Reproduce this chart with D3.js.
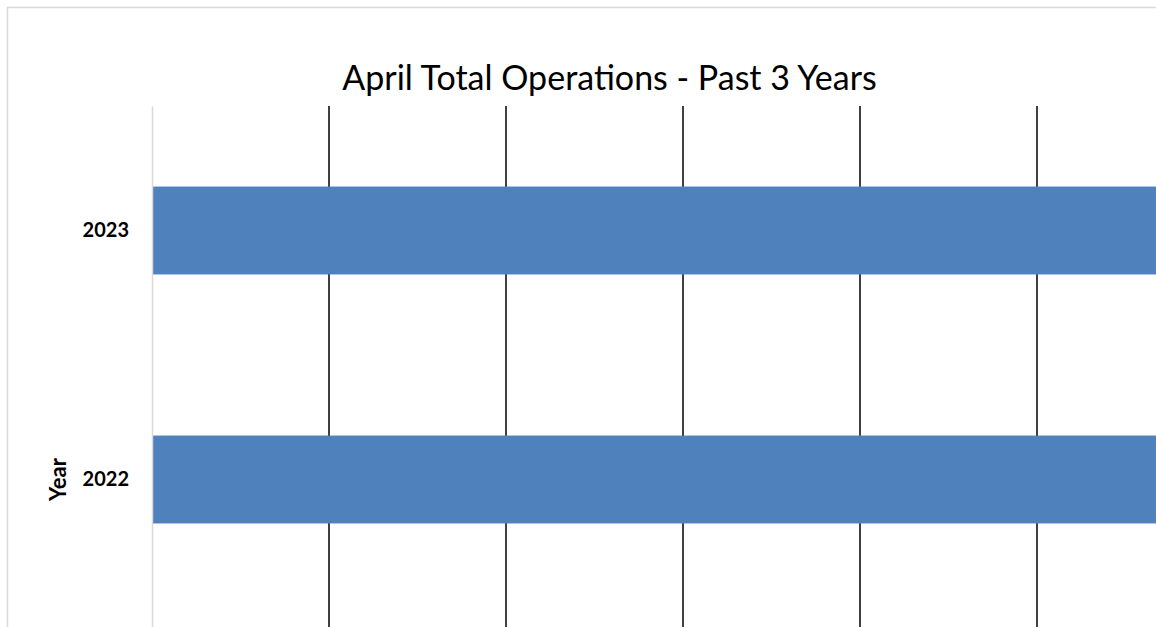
<!DOCTYPE html>
<html>
<head>
<meta charset="utf-8">
<script src="https://cdn.jsdelivr.net/npm/d3@7"></script>
<style>
  html, body { margin: 0; padding: 0; background: #fff; overflow: hidden; }
  svg { display: block; }
</style>
</head>
<body>
<div id="vis"></div>
<script>
// Chart data
const YEARS = ["2023", "2022", "2021"];
const OPERATIONS = [3600, 3550, 3500];
const X_TICKS = [0, 500, 1000, 1500, 2000, 2500, 3000, 3500, 4000];

// Frame and plot dimensions (the chart is larger than the window, as in the source)
const FRAME_WIDTH = 1156;
const FRAME_HEIGHT = 627;
const PLOT = {left: 152, top: 106, width: 1416, height: 747};

const FRAME = d3.select("#vis")
  .append("svg")
    .attr("width", FRAME_WIDTH)
    .attr("height", FRAME_HEIGHT);

// Chart border
FRAME.append("rect")
  .attr("x", 7.5)
  .attr("y", 7.5)
  .attr("width", 1205)
  .attr("height", 900)
  .attr("fill", "#fff")
  .attr("stroke", "#d9d9d9")
  .attr("stroke-width", 1.5);

// Scales
const X_SCALE = d3.scaleLinear()
  .domain([0, 4000])
  .range([PLOT.left, PLOT.left + PLOT.width]);

const Y_SCALE = d3.scaleBand()
  .domain(YEARS)
  .range([PLOT.top, PLOT.top + PLOT.height])
  .paddingInner(0.647)
  .paddingOuter(0.3235);

// Vertical gridlines
FRAME.append("g")
  .selectAll("line")
  .data(X_TICKS.slice(1))
  .enter()
  .append("line")
    .attr("x1", (d) => X_SCALE(d))
    .attr("x2", (d) => X_SCALE(d))
    .attr("y1", PLOT.top)
    .attr("y2", PLOT.top + PLOT.height)
    .attr("stroke", "#000")
    .attr("stroke-width", 1.5);

// Bars
FRAME.append("g")
  .selectAll("rect")
  .data(YEARS)
  .enter()
  .append("rect")
    .attr("x", X_SCALE(0))
    .attr("y", (d) => Y_SCALE(d))
    .attr("width", (d, i) => X_SCALE(OPERATIONS[i]) - X_SCALE(0))
    .attr("height", Y_SCALE.bandwidth())
    .attr("fill", "#4f81bd");

// Y axis
const yAxis = FRAME.append("g")
  .attr("transform", "translate(" + PLOT.left + ",0)")
  .call(d3.axisLeft(Y_SCALE).tickSize(0).tickPadding(23));
yAxis.select(".domain")
  .attr("stroke", "#d9d9d9")
  .attr("stroke-width", 1.5);
yAxis.selectAll("text")
  .attr("font-family", "Lato, 'Open Sans', sans-serif")
  .attr("font-weight", "bold")
  .attr("font-size", "20px")
  .attr("fill", "#000");
// The lowest year sits below the visible window, as in the source
yAxis.selectAll(".tick")
  .filter((d) => Y_SCALE(d) > FRAME_HEIGHT)
  .remove();

// Y axis title
FRAME.append("text")
  .attr("transform", "translate(66," + (PLOT.top + PLOT.height / 2) + ") rotate(-90)")
  .attr("text-anchor", "middle")
  .attr("font-family", "Lato, 'Open Sans', sans-serif")
  .attr("font-weight", "bold")
  .attr("font-size", "22px")
  .text("Year");

// Chart title
const title = FRAME.append("text")
  .attr("x", 609.5)
  .attr("y", 90)
  .attr("text-anchor", "middle")
  .attr("font-family", "Lato, 'Open Sans', sans-serif")
  .attr("font-size", "30px")
  .text("April Total Operations - Past 3 Years");

// Fit title width to the source (about 535px wide)
const titleWidth = title.node().getComputedTextLength();
title.attr("font-size", (30 * 535 / titleWidth).toFixed(1) + "px");
</script>
</body>
</html>
